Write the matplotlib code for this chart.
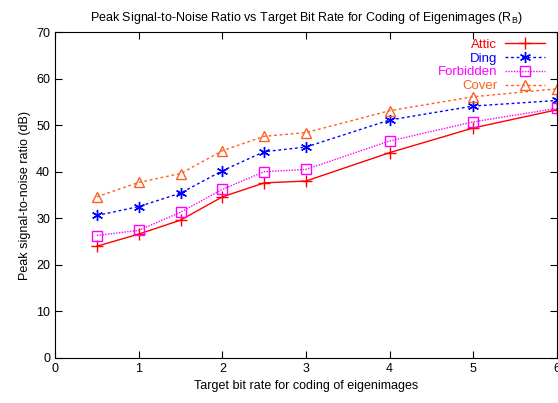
import matplotlib
matplotlib.use("Agg")
import matplotlib.pyplot as plt

plt.rcParams['font.family'] = ['Liberation Sans', 'DejaVu Sans']

# --- data ---
rates = [0.5, 1, 1.5, 2, 2.5, 3, 4, 5, 6]
attic = [24.0, 26.6, 29.6, 34.6, 37.6, 38.0, 44.1, 49.4, 53.3]
ding = [30.6, 32.5, 35.4, 40.2, 44.3, 45.3, 51.1, 54.1, 55.3]
forbidden = [26.3, 27.4, 31.3, 36.2, 40.0, 40.5, 46.6, 50.7, 53.6]
cover = [34.6, 37.7, 39.6, 44.5, 47.6, 48.4, 53.1, 56.1, 57.8]

fig = plt.figure(figsize=(5.58, 4.03), dpi=100)
ax = fig.add_axes([55 / 558, 45 / 403, 502 / 558, 326 / 403])

ax.plot(rates, attic, color='#ff0000', lw=1, ls='-', marker='+', ms=8, mew=1, label='Attic')
ax.plot(rates, ding, color='#0000ff', lw=1, ls=(0, (2, 2)), marker=(6, 2, 0), ms=8, mew=1, label='Ding')
ax.plot(rates, forbidden, color='#ff00ff', lw=1, ls=(0, (1, 1)), marker='s', ms=7, mew=1,
        mfc='none', label='Forbidden')
ax.plot(rates, cover, color='#ff6020', lw=1, ls=(0, (2, 2)), marker='^', ms=7, mew=1,
        mfc='none', label='Cover')

ax.set_xlim(0, 6)
ax.set_ylim(0, 70)
ax.set_xticks(range(0, 7))
ax.set_yticks(range(0, 71, 10))
ax.tick_params(direction='in', top=True, right=True, labelsize=9, length=5)
ax.set_xlabel('Target bit rate for coding of eigenimages', fontsize=9)
ax.set_ylabel('Peak signal-to-noise ratio (dB)', fontsize=9)
ax.set_title('Peak Signal-to-Noise Ratio vs Target Bit Rate for Coding of Eigenimages (R$_\\mathregular{B}$)',
             fontsize=9, pad=8)

leg = ax.legend(loc='upper right', bbox_to_anchor=(0.976, 0.98), markerfirst=False, frameon=False,
                fontsize=9.5, labelcolor='linecolor', handlelength=3.0, borderaxespad=0.0,
                borderpad=0.0, labelspacing=0.12, handletextpad=0.6)
for t in leg.get_texts():
    t.set_ha('right')

fig.savefig('out.png', dpi=100)
